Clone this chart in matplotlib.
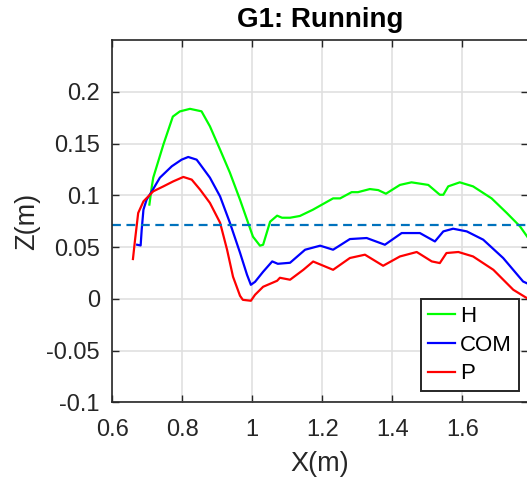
import numpy as np
import matplotlib
matplotlib.use('Agg')
import matplotlib.pyplot as plt

plt.rcParams['font.family'] = ['Liberation Sans', 'DejaVu Sans']

# H curve (green)
h_x = [0.706, 0.713, 0.717, 0.746, 0.773, 0.793, 0.822, 0.855, 0.879, 0.908, 0.936,
       0.965, 0.988, 1.002, 1.022, 1.031, 1.051, 1.071, 1.085, 1.108, 1.136, 1.173,
       1.231, 1.251, 1.284, 1.302, 1.336, 1.360, 1.382, 1.422, 1.455, 1.503, 1.536,
       1.546, 1.560, 1.593, 1.631, 1.684, 1.727, 1.765, 1.788]
h_y = [0.091, 0.1086, 0.117, 0.149, 0.176, 0.181, 0.1835, 0.1811, 0.1666, 0.1441, 0.1219,
       0.0957, 0.0735, 0.060, 0.0513, 0.0522, 0.0745, 0.0803, 0.0783, 0.0783, 0.080, 0.086,
       0.097, 0.097, 0.103, 0.103, 0.106, 0.105, 0.1015, 0.110, 0.1125, 0.110, 0.1005,
       0.1005, 0.1086, 0.1125, 0.1086, 0.097, 0.083, 0.070, 0.059]

# COM curve (blue)
com_x = [0.671, 0.681, 0.684, 0.689, 0.698, 0.713, 0.736, 0.770, 0.798, 0.817, 0.841,
         0.851, 0.879, 0.908, 0.936, 0.965, 0.985, 0.996, 1.008, 1.031, 1.057, 1.073,
         1.108, 1.151, 1.194, 1.231, 1.279, 1.327, 1.379, 1.427, 1.479, 1.522, 1.546,
         1.574, 1.613, 1.660, 1.717, 1.774, 1.788]
com_y = [0.0522, 0.0515, 0.0667, 0.0861, 0.0957, 0.1038, 0.117, 0.128, 0.1344, 0.137, 0.1344,
         0.1299, 0.117, 0.0989, 0.0735, 0.0445, 0.0232, 0.0135, 0.0164, 0.0261, 0.0361, 0.0338,
         0.0348, 0.0474, 0.0513, 0.0474, 0.0577, 0.0587, 0.0522, 0.0635, 0.0635, 0.0554, 0.0651,
         0.0677, 0.0651, 0.0571, 0.0394, 0.0167, 0.0145]

# P curve (red)
p_x = [0.659, 0.665, 0.674, 0.689, 0.717, 0.746, 0.774, 0.803, 0.827, 0.851, 0.879,
       0.908, 0.928, 0.945, 0.965, 0.973, 0.996, 1.008, 1.031, 1.051, 1.071, 1.079,
       1.108, 1.146, 1.174, 1.231, 1.279, 1.322, 1.374, 1.422, 1.470, 1.513, 1.536,
       1.555, 1.589, 1.631, 1.689, 1.746, 1.788]
p_y = [0.0384, 0.057, 0.0829, 0.0941, 0.1038, 0.1086, 0.1134, 0.1177, 0.1151, 0.1054, 0.0926,
       0.0735, 0.0474, 0.0213, 0.0029, -0.001, -0.0019, 0.0039, 0.0116, 0.0145, 0.0174, 0.0203,
       0.0184, 0.028, 0.036, 0.028, 0.0394, 0.0426, 0.0319, 0.0409, 0.0452, 0.0361, 0.0345,
       0.0442, 0.0452, 0.0409, 0.028, 0.0087, 0.0]

threshold = 0.0715

x_ticks = [0.6, 0.8, 1.0, 1.2, 1.4, 1.6]
x_tick_labels = ['0.6', '0.8', '1', '1.2', '1.4', '1.6']
y_ticks = [-0.1, -0.05, 0, 0.05, 0.1, 0.15, 0.2]
y_tick_labels = ['-0.1', '-0.05', '0', '0.05', '0.1', '0.15', '0.2']

fig = plt.figure(figsize=(5.27, 4.80), dpi=100)
ax = fig.add_axes([112.3 / 527, 77.7 / 480, 415.7 / 527, 362.3 / 480])

ax.plot(h_x, h_y, color=(0, 1, 0), lw=1.6, label='H')
ax.plot(com_x, com_y, color=(0, 0, 1), lw=1.6, label='COM')
ax.plot(p_x, p_y, color=(1, 0, 0), lw=1.6, label='P')
ax.axhline(threshold, color=(0, 0.447, 0.741), lw=1.6, ls=(0, (4, 2.5)))

ax.set_xlim(0.6, 1.788)
ax.set_ylim(-0.1, 0.25)
ax.set_xticks(x_ticks)
ax.set_xticklabels(x_tick_labels)
ax.set_yticks(y_ticks)
ax.set_yticklabels(y_tick_labels)

ax.grid(True, color='#e0e0e0', lw=1.2)
ax.set_axisbelow(True)
ax.tick_params(direction='in', top=True, right=True, labelsize=17, pad=9,
               length=5, width=1, colors='#262626', labelcolor='#262626')
ax.tick_params(axis='x', pad=12)
for s in ax.spines.values():
    s.set_color('#262626')
    s.set_linewidth(1.2)

ax.set_xlabel('X(m)', fontsize=19.5, color='#262626', labelpad=7)
ax.set_ylabel('Z(m)', fontsize=19.5, color='#262626', labelpad=4)
ax.set_title('G1: Running', fontsize=20, fontweight='bold', pad=9.5)

leg = ax.legend(loc='lower right', bbox_to_anchor=(0.978, 0.031), fontsize=16,
                fancybox=False, framealpha=1, edgecolor='#262626',
                handlelength=1.2, handletextpad=0.25, borderpad=0.3,
                labelspacing=0.35, borderaxespad=0)
leg.get_frame().set_linewidth(1.4)

fig.savefig('out.png', dpi=100)
